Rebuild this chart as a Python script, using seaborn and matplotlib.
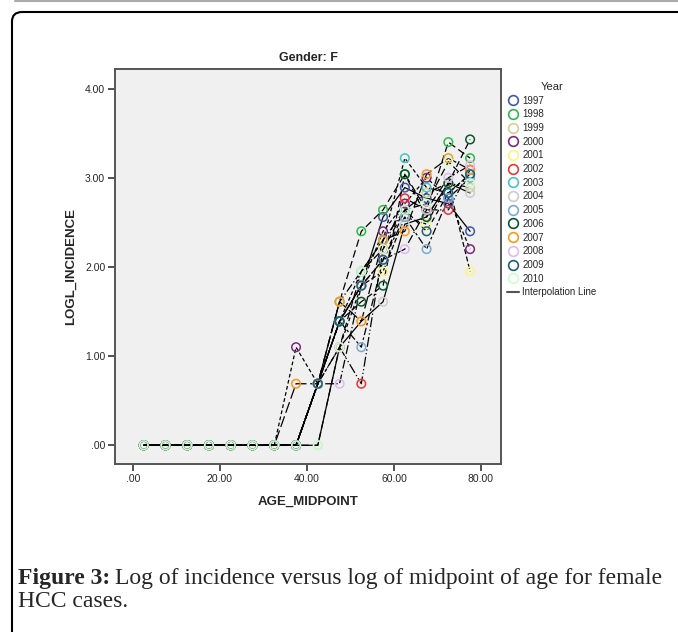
import pandas as pd
import matplotlib.pyplot as plt
import seaborn as sns
from matplotlib.lines import Line2D
from matplotlib.patches import FancyBboxPatch

# ==========================
# Data
# ==========================
years = ["1997", "1998", "1999", "2000", "2001", "2002", "2003",
         "2004", "2005", "2006", "2007", "2008", "2009", "2010"]

age_midpoint = [2.5, 7.5, 12.5, 17.5, 22.5, 27.5, 32.5, 37.5,
                42.5, 47.5, 52.5, 57.5, 62.5, 67.5, 72.5, 77.5]

logl_1997 = [0, 0, 0, 0, 0, 0, 0, 0, 0.69, 1.39, 1.79, 2.56, 2.89, 2.77, 2.71, 2.40]
logl_1998 = [0, 0, 0, 0, 0, 0, 0, 0, 0.69, 1.61, 2.40, 2.64, 3.04, 2.64, 3.40, 3.22]
logl_1999 = [0, 0, 0, 0, 0, 0, 0, 0, 0.69, 1.61, 1.95, 2.30, 2.64, 2.83, 2.94, 2.89]
logl_2000 = [0, 0, 0, 0, 0, 0, 0, 1.10, 0.69, 1.10, 1.79, 2.40, 2.71, 3.00, 2.77, 2.20]
logl_2001 = [0, 0, 0, 0, 0, 0, 0, 0, 0.69, 1.39, 1.79, 1.95, 2.56, 2.48, 2.94, 1.95]
logl_2002 = [0, 0, 0, 0, 0, 0, 0, 0, 0.69, 1.10, 0.69, 2.20, 2.77, 2.64, 2.64, 3.09]
logl_2003 = [0, 0, 0, 0, 0, 0, 0, 0, 0.69, 1.39, 1.95, 2.30, 3.22, 2.89, 2.83, 3.04]
logl_2004 = [0, 0, 0, 0, 0, 0, 0, 0, 0, 1.10, 1.39, 1.61, 2.48, 2.56, 2.94, 2.83]
logl_2005 = [0, 0, 0, 0, 0, 0, 0, 0, 0.69, 1.39, 1.10, 2.08, 2.56, 2.20, 2.77, 3.00]
logl_2006 = [0, 0, 0, 0, 0, 0, 0, 0, 0.69, 1.39, 1.61, 1.79, 3.04, 2.56, 2.94, 3.43]
logl_2007 = [0, 0, 0, 0, 0, 0, 0, 0.69, 0.69, 1.61, 1.39, 2.30, 2.40, 3.04, 3.22, 3.09]
logl_2008 = [0, 0, 0, 0, 0, 0, 0, 0, 0.69, 0.69, 1.79, 2.08, 2.20, 2.64, 3.00, 3.14]
logl_2009 = [0, 0, 0, 0, 0, 0, 0, 0, 0.69, 1.39, 1.79, 2.08, 2.64, 2.40, 2.83, 3.04]
logl_2010 = [0, 0, 0, 0, 0, 0, 0, 0, 0, 1.10, 1.95, 2.20, 2.64, 2.71, 3.18, 2.94]

all_series = [logl_1997, logl_1998, logl_1999, logl_2000, logl_2001, logl_2002, logl_2003,
              logl_2004, logl_2005, logl_2006, logl_2007, logl_2008, logl_2009, logl_2010]

year_colors = ["#3E58AC", "#2EB848", "#D3CE97", "#7C287D", "#FBF873", "#EF3338", "#48C2C5",
               "#CCCCCC", "#7AAAD5", "#0A562C", "#F8981D", "#DDBAF1", "#1A5F76", "#CCFFCC"]

# dash patterns for the interpolation lines (all drawn in black)
dash_list = ["", (6, 3), (7, 2, 1, 2), (3, 2), (4, 2), (8, 2, 1, 2, 1, 2), (3, 2),
             "", (6, 2, 2, 2), (5, 3), (9, 3), (7, 2, 1, 2), (4, 3), (6, 3)]

rows = []
for y, vals in zip(years, all_series):
    for a, v in zip(age_midpoint, vals):
        rows.append({"Year": y, "AGE_MIDPOINT": a, "LOGL_INCIDENCE": v})
df = pd.DataFrame(rows)

sns.set_style("white")
plt.rcParams["font.family"] = ["Liberation Sans", "DejaVu Sans"]

fig = plt.figure(figsize=(6.78, 6.32), dpi=100)
ax = fig.add_axes([115 / 678, 1 - 464 / 632, 386 / 678, 395 / 632])
ax.set_facecolor("#F0F0F0")

# ==========================
# Lines + hollow markers
# ==========================
sns.lineplot(
    data=df, x="AGE_MIDPOINT", y="LOGL_INCIDENCE",
    style="Year", dashes=dash_list, color="black",
    lw=0.9, estimator=None, legend=False, ax=ax
)

sns.scatterplot(
    data=df, x="AGE_MIDPOINT", y="LOGL_INCIDENCE",
    hue="Year", palette=dict(zip(years, year_colors)),
    s=38, linewidth=1.1, legend=False, ax=ax, zorder=3
)
pts = ax.collections[-1]
pts.set_edgecolors(pts.get_facecolors())
pts.set_facecolors("none")

ax.set_xlim(-4.1, 84.6)
ax.set_ylim(-0.21, 4.22)
ax.set_xticks([0, 20, 40, 60, 80])
ax.set_xticklabels([".00", "20.00", "40.00", "60.00", "80.00"])
ax.set_yticks([0, 1, 2, 3, 4])
ax.set_yticklabels([".00", "1.00", "2.00", "3.00", "4.00"])
ax.tick_params(axis="both", direction="out", length=5, width=1.2,
               color="#333333", labelsize=7.5, pad=2, left=True, bottom=True)

for sp in ax.spines.values():
    sp.set_color("#555555")
    sp.set_linewidth(1.4)

ax.set_title("Gender: F", fontsize=9, fontweight="bold", pad=6)
ax.set_xlabel("AGE_MIDPOINT", fontsize=9.5, fontweight="bold", labelpad=9)
ax.set_ylabel("LOGL_INCIDENCE", fontsize=9.5, fontweight="bold", labelpad=6)

# ==========================
# Legend
# ==========================
handles = [Line2D([], [], marker="o", ls="", mfc="none", mec=c, ms=7, mew=1.2)
           for c in year_colors]
handles.append(Line2D([], [], color="#555555", lw=1.5))
labels = years + ["Interpolation Line"]
leg = fig.legend(handles, labels, title="Year", loc="upper left",
                 bbox_to_anchor=(503 / 678, 1 - 78 / 632), frameon=False,
                 fontsize=7, title_fontsize=8, labelspacing=0.38,
                 handlelength=1.2, handletextpad=0.4, borderaxespad=0)

# ==========================
# Caption and frame
# ==========================
fig.patches.append(FancyBboxPatch((12 / 678, -0.1), 1.2, 1 - 12 / 632 + 0.1,
                                  boxstyle="round,pad=0,rounding_size=0.015",
                                  transform=fig.transFigure, fill=False,
                                  lw=1.5, ec="black"))
fig.add_artist(Line2D([15 / 678, 1], [1 - 0.8 / 632, 1 - 0.8 / 632],
                      transform=fig.transFigure, color="#AAAAAA", lw=1.5))

serif = ["Liberation Serif", "DejaVu Serif"]
t1 = fig.text(18 / 678, 1 - 584 / 632, "Figure 3:", fontsize=17,
              fontweight="bold", family=serif, va="baseline")
r = fig.canvas.get_renderer()
bb = t1.get_window_extent(renderer=r)
fig.text((bb.x1 + 5) / 678, 1 - 584 / 632,
         "Log of incidence versus log of midpoint of age for female",
         fontsize=17, family=serif, va="baseline")
fig.text(18 / 678, 1 - 607 / 632, "HCC cases.", fontsize=17,
         family=serif, va="baseline")

plt.savefig("out.png", dpi=100)
